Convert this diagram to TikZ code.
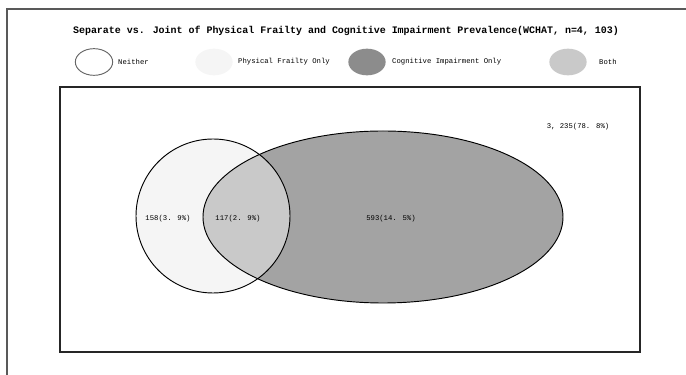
\documentclass[tikz,border=0pt]{standalone}
\usepackage{fontspec}
\setmainfont{Liberation Mono}
\usetikzlibrary{shapes.geometric}

\definecolor{frailfill}{gray}{0.96}
\definecolor{cognfill}{gray}{0.64}
\definecolor{bothfill}{gray}{0.79}

\begin{document}
\begin{tikzpicture}[x=0.03cm,y=-0.03cm]
        \tikzset{
            lbl/.style={font=\fontsize{6.2}{7}\selectfont, inner sep=0pt},
            key/.style={ellipse, minimum width=1.12cm, minimum height=0.8cm, inner sep=0pt}
        }
        \useasboundingbox (0,0) rectangle (686,375);

        % outer frame
        \coordinate (FL) at (7,375);
        \coordinate (FC) at (7,9);
        \coordinate (FR) at (686,9);
        \draw[line width=1.3pt, black!65] (FL) -- (FC) -- (FR);

        \node[font=\fontsize{8.5}{10}\selectfont\bfseries] (title) at (346,31)
            {Separate vs. Joint of Physical Frailty and Cognitive Impairment Prevalence(WCHAT, n=4, 103)};

        % legend
        \node[key, draw=black!60, thick, fill=white] (kN) at (94,62) {};
        \node[key, fill=frailfill] (kP) at (214,62) {};
        \node[key, fill=black!45] (kC) at (367,62) {};
        \node[key, fill=bothfill] (kB) at (568,62) {};
        \node[lbl, anchor=west] (tN) at (118,62) {Neither};
        \node[lbl, anchor=west] (tP) at (238,62) {Physical Frailty Only};
        \node[lbl, anchor=west] (tC) at (392,62) {Cognitive Impairment Only};
        \node[lbl, anchor=west] (tB) at (599,62) {Both};

        % plot area
        \coordinate (BA) at (60,87);
        \coordinate (BB) at (640,352);
        \draw[line width=1.3pt, black!85] (BA) rectangle (BB);

        % venn
        \coordinate (P) at (213,216);
        \coordinate (C) at (383,217);
        \fill[frailfill] (P) circle[radius=77];
        \fill[cognfill] (C) ellipse[x radius=180, y radius=86];
        \begin{scope}
            \clip (P) circle[radius=77];
            \fill[bothfill] (C) ellipse[x radius=180, y radius=86];
        \end{scope}
        \draw[thick] (P) circle[radius=77];
        \draw[thick] (C) ellipse[x radius=180, y radius=86];

        \node[lbl] (nP) at (168,219) {158(3. 9\%)};
        \node[lbl] (nB) at (238,219) {117(2. 9\%)};
        \node[lbl] (nC) at (391,219) {593(14. 5\%)};
        \node[lbl] (nN) at (578,127) {3, 235(78. 8\%)};

    \end{tikzpicture}
\end{document}
